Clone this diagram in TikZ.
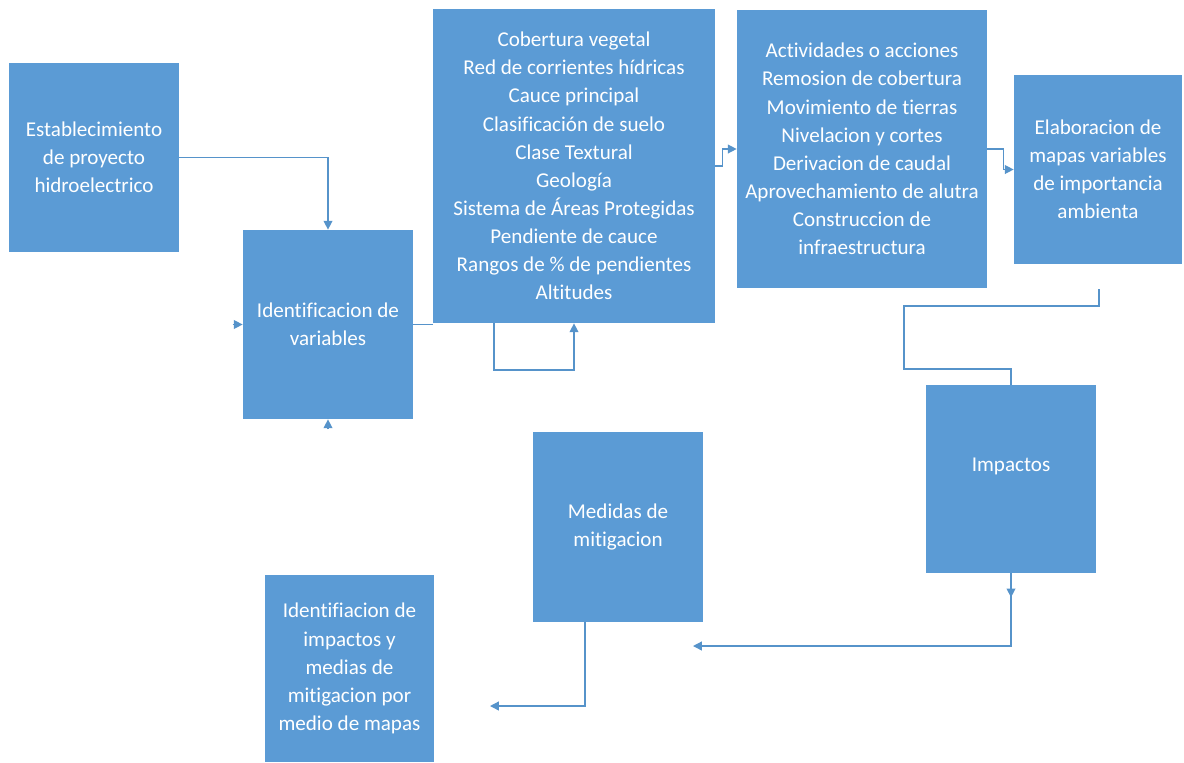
\documentclass[tikz,border=0pt]{standalone}
\usepackage{fontspec}
\setmainfont{Carlito}[Ligatures=NoCommon]
\usetikzlibrary{arrows.meta,calc}
\definecolor{boxblue}{HTML}{5B9BD5}
\tikzset{
  box/.style={fill=boxblue, text=white, align=center, inner sep=2pt,
    font=\fontsize{12}{16}\selectfont},
  link/.style={draw=boxblue!95!black, line width=0.75pt},
  arr/.style={link, -{Triangle[length=5pt,width=5pt]}}
}
\begin{document}
\begin{tikzpicture}
      \useasboundingbox (0,0) rectangle (23.68,-15.24);

      % Boxes
      \node[box, minimum width=3.4cm, minimum height=3.78cm] (est) at (1.88,-3.15)
        {Establecimiento\\de proyecto\\hidroelectrico};
      \node[box, minimum width=3.4cm, minimum height=3.78cm] (idv) at (6.56,-6.49)
        {Identificacion de\\variables};
      \node[box, minimum width=5.64cm, minimum height=6.28cm] (lst) at (11.48,-3.32)
        {Cobertura vegetal\\Red de corrientes hídricas\\Cauce principal\\Clasificación de suelo\\Clase Textural\\Geología\\Sistema de Áreas Protegidas\\Pendiente de cauce\\Rangos de \% de pendientes\\Altitudes};
      \node[box, minimum width=5.0cm, minimum height=5.56cm] (act) at (17.24,-2.98)
        {Actividades o acciones\\Remosion de cobertura\\Movimiento de tierras\\Nivelacion y cortes\\Derivacion de caudal\\Aprovechamiento de alutra\\Construccion de\\infraestructura};
      \node[box, minimum width=3.36cm, minimum height=3.78cm] (map) at (21.96,-3.39)
        {Elaboracion de\\mapas variables\\de importancia\\ambienta};
      \node[box, minimum width=3.4cm, minimum height=3.76cm] (imp) at (20.22,-9.58)
        {Impactos\\~};
      \node[box, minimum width=3.4cm, minimum height=3.8cm] (med) at (12.36,-10.54)
        {Medidas de\\mitigacion};
      \node[box, minimum width=3.38cm, minimum height=3.74cm] (ide) at (6.99,-13.37)
        {Identifiacion de\\impactos y\\medias de\\mitigacion por\\medio de mapas};

      % Free ends
      \coordinate (idvL) at ($(idv.west)+(-0.2,0)$);
      \coordinate (idvB) at ($(idv.south)+(0,-0.2)$);
      \coordinate (lpA) at (9.88,-6.46);
      \coordinate (mapOut) at (21.98,-5.78);
      \coordinate (bendA) at (18.08,-6.12);
      \coordinate (bendB) at (18.08,-7.38);
      \coordinate (impEnd) at (13.86,-12.92);
      \coordinate (medOut) at (11.7,-12.44);
      \coordinate (medEnd) at (9.8,-14.12);

      % Connectors
      \draw[arr] (est.east) -| (idv.north);
      \draw[arr] (idvL) -- (idv.west);
      \draw[arr] (idvB) -- (idv.south);
      \draw[link] (idv.east) -- (idv.east -| lst.west);
      \draw[arr] (lpA) -- ++(0,-0.94) -| (lst.south);
      \draw[arr] (lst.east) -- ++(0.14,0) |- (act.west);
      \draw[arr] (act.east) -- ++(0.32,0) |- (map.west);
      \draw[link] (mapOut) |- (bendA) -- (bendB) -| (imp.north);
      \draw[arr] (imp.south) -- ++(0,-0.48);
      \draw[arr] (imp.south) |- (impEnd);
      \draw[arr] (medOut) |- (medEnd);
\end{tikzpicture}
\end{document}
